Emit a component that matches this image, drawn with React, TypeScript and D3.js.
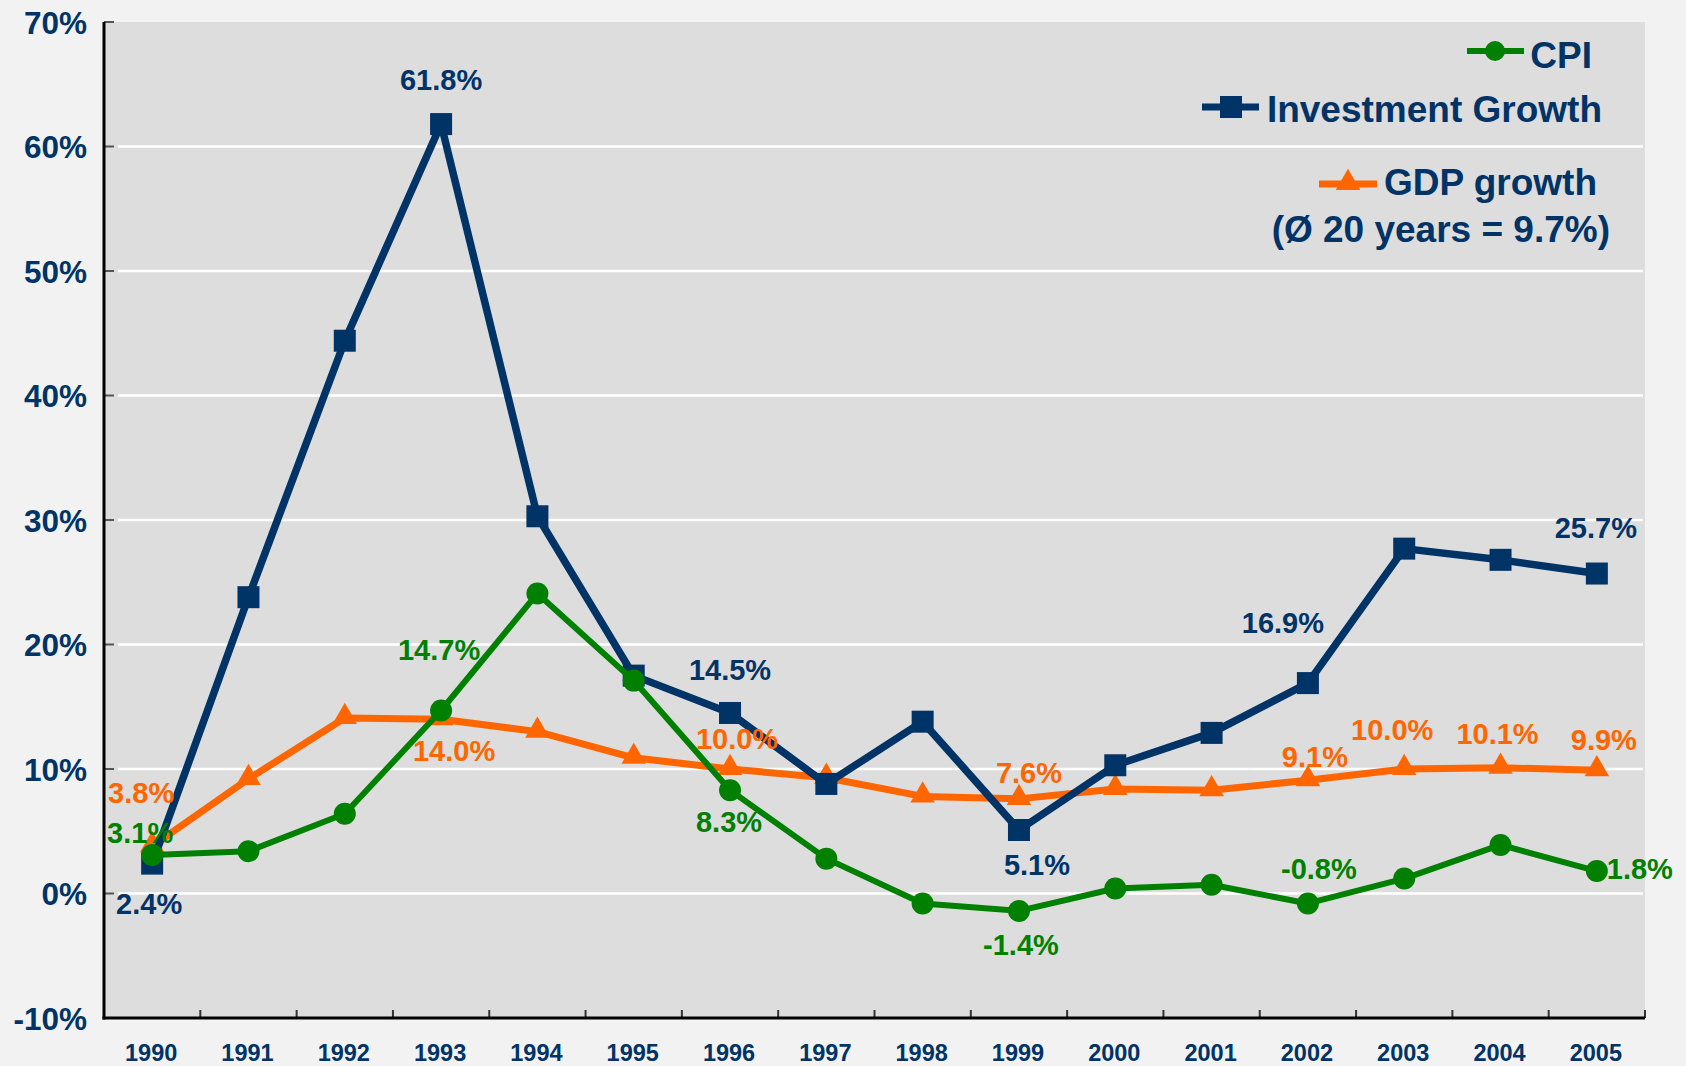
import React from "react";
import * as d3 from "d3";

const years = ["1990","1991","1992","1993","1994","1995","1996","1997","1998","1999","2000","2001","2002","2003","2004","2005"];
const investment = [2.4, 23.8, 44.4, 61.8, 30.3, 17.5, 14.5, 8.8, 13.8, 5.1, 10.3, 12.9, 16.9, 27.7, 26.8, 25.7];
const cpi = [3.1, 3.4, 6.4, 14.7, 24.1, 17.1, 8.3, 2.8, -0.8, -1.4, 0.4, 0.7, -0.8, 1.2, 3.9, 1.8];
const gdp = [3.8, 9.2, 14.1, 14.0, 13.0, 10.9, 10.0, 9.3, 7.8, 7.6, 8.4, 8.3, 9.1, 10.0, 10.1, 9.9];
const yTicks = [-10, 0, 10, 20, 30, 40, 50, 60, 70];
const legendLabels = ["CPI", "Investment Growth", "GDP growth", "(Ø 20 years = 9.7%)"];

// which points get a value label
const labelledInvestment = [0, 3, 6, 9, 12, 15];
const labelledCpi = [0, 3, 6, 9, 12, 15];
const labelledGdp = [0, 3, 6, 9, 12, 13, 14, 15];

const NAVY = "#003366";
const GREEN = "#008000";
const ORANGE = "#FF6600";
const FONT = "'Liberation Sans', Arial, sans-serif";

// label offsets relative to point (dx, dy of baseline)
const invOffsets: Record<number, [number, number]> = {
  0: [-3, 50], 3: [0, -34], 6: [0, -33], 9: [18, 45], 12: [-25, -50], 15: [-1, -36],
};
const cpiOffsets: Record<number, [number, number]> = {
  0: [-12, -12], 3: [-2, -50], 6: [-1, 42], 9: [2, 44], 12: [11, -24], 15: [43, 8],
};
const gdpOffsets: Record<number, [number, number]> = {
  0: [-11, -43], 3: [13, 42], 6: [7, -20], 9: [10, -16], 12: [7, -13], 13: [-12, -29], 14: [-3, -24], 15: [7, -20],
};

export default function App() {
  const W = 1686, H = 1066;
  const left = 104, right = 1645, top = 22, bottom = 1018;
  const x = d3.scaleBand<string>().domain(years).range([left, right]);
  const y = d3.scaleLinear().domain([-10, 70]).range([bottom, top]);
  const cx = (i: number) => (x(years[i]) as number) + x.bandwidth() / 2;
  const line = d3.line<number>().x((_, i) => cx(i)).y((d) => y(d));
  const tri = d3.symbol().type(d3.symbolTriangle).size(260)();
  const fmt = (v: number) => v.toFixed(1) + "%";

  const boundaries = d3.range(years.length + 1).map((i) => left + i * x.bandwidth());

  return (
    <svg width={W} height={H} style={{ position: "absolute", left: 0, top: 0, fontFamily: FONT }}>
      <rect x={0} y={0} width={W} height={H} fill="#F2F2F2" />
      <rect x={left} y={top} width={right - left} height={bottom - top} fill="#DDDDDD" />
      {yTicks.filter((t) => t > -10 && t < 70).map((t) => (
        <line key={"g" + t} x1={118} x2={1643} y1={y(t)} y2={y(t)} stroke="#FFFFFF" strokeWidth={2.5} />
      ))}
      {/* y ticks */}
      {yTicks.map((t) => (
        <line key={"yt" + t} x1={left} x2={left + 10} y1={y(t)} y2={y(t)} stroke="#555" strokeWidth={2} />
      ))}
      {/* x ticks */}
      {boundaries.slice(1).map((b, i) => (
        <line key={"xt" + i} x1={b} x2={b} y1={bottom} y2={bottom - 8} stroke="#333" strokeWidth={2} />
      ))}
      {/* axes */}
      <line x1={left} x2={left} y1={top} y2={bottom + 1.5} stroke="#000" strokeWidth={3} />
      <line x1={left - 1.5} x2={right} y1={bottom} y2={bottom} stroke="#000" strokeWidth={3} />
      {yTicks.map((t) => (
        <text key={"yl" + t} x={87} y={y(t) + 11.5} textAnchor="end" fontSize={31.5} fontWeight="bold" fill={NAVY}>
          {t + "%"}
        </text>
      ))}
      {years.map((yr, i) => (
        <text key={"xl" + yr} x={cx(i) - 1} y={1061} textAnchor="middle" fontSize={23.5} fontWeight="bold" fill={NAVY}>
          {yr}
        </text>
      ))}

      {/* GDP */}
      <path d={line(gdp) as string} fill="none" stroke={ORANGE} strokeWidth={7} strokeLinejoin="round" />
      {gdp.map((v, i) => (
        <path key={"gm" + i} d={tri as string} transform={`translate(${cx(i)},${y(v) - 1})`} fill={ORANGE} />
      ))}
      {/* Investment */}
      <path d={line(investment) as string} fill="none" stroke={NAVY} strokeWidth={7.5} strokeLinejoin="round" />
      {investment.map((v, i) => (
        <rect key={"im" + i} x={cx(i) - 11} y={y(v) - 11} width={22} height={22} fill={NAVY} />
      ))}
      {/* CPI */}
      <path d={line(cpi) as string} fill="none" stroke={GREEN} strokeWidth={6} strokeLinejoin="round" />
      {cpi.map((v, i) => (
        <circle key={"cm" + i} cx={cx(i)} cy={y(v)} r={11} fill={GREEN} />
      ))}

      {/* labels */}
      {labelledGdp.map((i) => (
        <text key={"gl" + i} x={cx(i) + gdpOffsets[i][0]} y={y(gdp[i]) + gdpOffsets[i][1]} textAnchor="middle" fontSize={29} fontWeight="bold" fill={ORANGE}>
          {fmt(gdp[i])}
        </text>
      ))}
      {labelledInvestment.map((i) => (
        <text key={"il" + i} x={cx(i) + invOffsets[i][0]} y={y(investment[i]) + invOffsets[i][1]} textAnchor="middle" fontSize={29} fontWeight="bold" fill={NAVY}>
          {fmt(investment[i])}
        </text>
      ))}
      {labelledCpi.map((i) => (
        <text key={"cl" + i} x={cx(i) + cpiOffsets[i][0]} y={y(cpi[i]) + cpiOffsets[i][1]} textAnchor="middle" fontSize={29} fontWeight="bold" fill={GREEN}>
          {fmt(cpi[i])}
        </text>
      ))}

      {/* legend */}
      <line x1={1467} x2={1524} y1={51} y2={51} stroke={GREEN} strokeWidth={6} />
      <circle cx={1495} cy={51} r={10} fill={GREEN} />
      <text x={1592} y={68} textAnchor="end" fontSize={37} fontWeight="bold" fill={NAVY}>{legendLabels[0]}</text>

      <line x1={1202} x2={1259} y1={107} y2={107} stroke={NAVY} strokeWidth={7} />
      <rect x={1220} y={96} width={22} height={22} fill={NAVY} />
      <text x={1602} y={122} textAnchor="end" fontSize={37} fontWeight="bold" fill={NAVY}>{legendLabels[1]}</text>

      <line x1={1319} x2={1377} y1={184} y2={184} stroke={ORANGE} strokeWidth={7} />
      <path d={tri as string} transform="translate(1348,183)" fill={ORANGE} />
      <text x={1597} y={195} textAnchor="end" fontSize={37} fontWeight="bold" fill={NAVY}>{legendLabels[2]}</text>
      <text x={1610} y={242} textAnchor="end" fontSize={37} fontWeight="bold" fill={NAVY}>{legendLabels[3]}</text>
    </svg>
  );
}
